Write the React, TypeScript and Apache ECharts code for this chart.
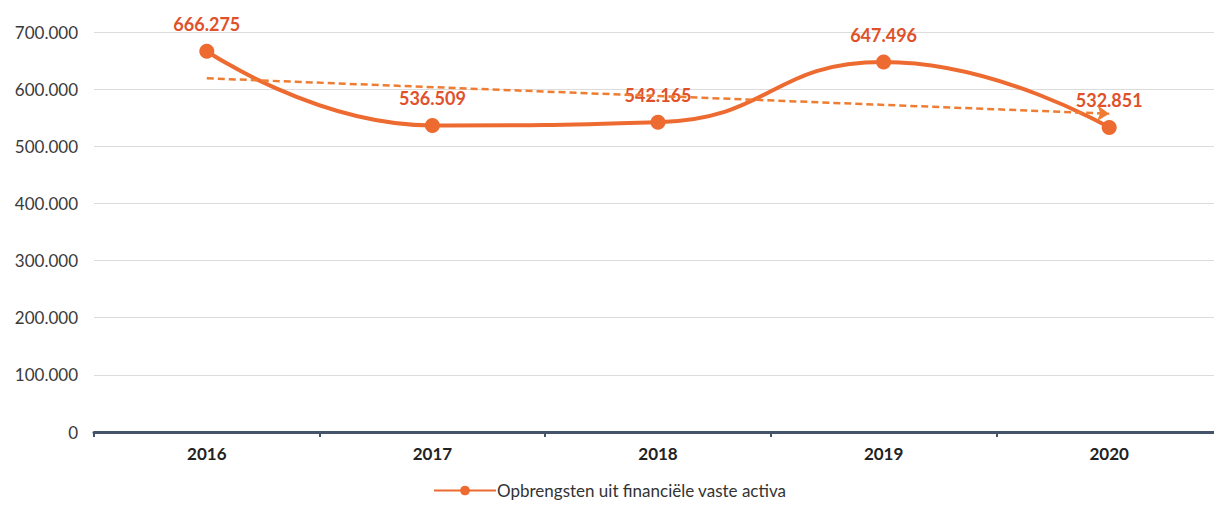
import React, { useEffect, useRef } from "react";
import * as echarts from "echarts";

const categories = ["2016", "2017", "2018", "2019", "2020"];
const values = [666275, 536509, 542165, 647496, 532851];
const trendStart = 619000;
const trendEnd = 557000;
const seriesName = "Opbrengsten uit financiële vaste activa";
const yTicks = [0, 100000, 200000, 300000, 400000, 500000, 600000, 700000];

const fmt = (v: number) => String(Math.round(v)).replace(/\B(?=(\d{3})+(?!\d))/g, ".");

export default function App() {
  const ref = useRef<HTMLDivElement>(null);
  useEffect(() => {
    const chart = echarts.init(ref.current!, null, { renderer: "svg" });
    const font = "Lato, 'Open Sans', sans-serif";
    chart.setOption({
      animation: false,
      textStyle: { fontFamily: font },
      grid: { left: 94, right: 0, top: 32, bottom: 74 },
      legend: {
        bottom: 2,
        left: 428,
        itemWidth: 62,
        itemHeight: 12,
        itemGap: 4,
        textStyle: { fontSize: 17, color: "#333", fontFamily: font, padding: [0, 0, 0, -4] },
        data: [seriesName],
      },
      xAxis: {
        type: "category",
        data: categories,
        boundaryGap: true,
        axisLine: { lineStyle: { color: "#44546a", width: 3 } },
        axisTick: { show: true, length: 5, lineStyle: { color: "#44546a", width: 2 } },
        axisLabel: { fontSize: 17, fontWeight: "bold", color: "#222", margin: 13, fontFamily: font },
        splitLine: { show: false },
      },
      yAxis: {
        type: "value",
        min: yTicks[0],
        max: yTicks[yTicks.length - 1],
        interval: 100000,
        axisLine: { show: false },
        axisTick: { show: false },
        axisLabel: { fontSize: 17, color: "#3a3a3a", margin: 16, formatter: (v: number) => fmt(v), fontFamily: font },
        splitLine: { lineStyle: { color: "#dcdcdc", width: 1 } },
      },
      series: [
        {
          name: seriesName,
          type: "line",
          data: values,
          smooth: 0.5,
          symbol: "circle",
          symbolSize: 15,
          lineStyle: { color: "#ed6a30", width: 4 },
          itemStyle: { color: "#ed6a30" },
          label: {
            show: true,
            position: "top",
            distance: 11,
            fontSize: 18,
            fontWeight: "bold",
            color: "#e0512b",
            formatter: (p: any) => fmt(p.value),
            fontFamily: font,
          },
          markLine: {
            silent: true,
            symbol: ["none", "arrow"],
            symbolSize: 12,
            label: { show: false },
            lineStyle: { color: "#ee7d33", width: 2.5, type: [7, 4] },
            data: [
              [
                { coord: [categories[0], trendStart] },
                { coord: [categories[categories.length - 1], trendEnd] },
              ],
            ],
          },
          z: 3,
        },
      ],
    });
    return () => chart.dispose();
  }, []);
  return (
    <div style={{ position: "absolute", left: 0, top: 0, width: 1214, height: 506, overflow: "hidden", background: "#fff" }}>
      <div ref={ref} style={{ width: 1222, height: 506 }} />
    </div>
  );
}
